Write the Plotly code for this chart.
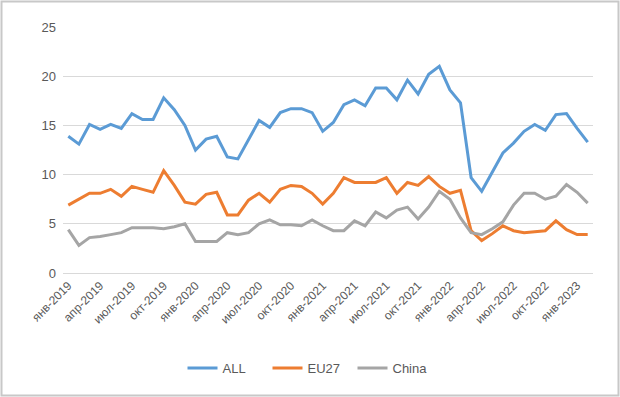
import plotly.graph_objects as go

month_abbr = ["янв", "фев", "мар", "апр", "май", "июн", "июл", "авг", "сен", "окт", "ноя", "дек"]
years = [2019, 2020, 2021, 2022, 2023]
categories = [f"{m}-{y}" for y in years for m in month_abbr][:50]

all_values = [13.9, 13.1, 15.1, 14.6, 15.1, 14.7, 16.2, 15.6, 15.6, 17.8,
              16.6, 15.0, 12.5, 13.6, 13.9, 11.8, 11.6, 13.6, 15.5, 14.8,
              16.3, 16.7, 16.7, 16.3, 14.4, 15.3, 17.1, 17.6, 17.0, 18.8,
              18.8, 17.6, 19.6, 18.2, 20.2, 21.0, 18.6, 17.3, 9.7, 8.3,
              10.3, 12.2, 13.2, 14.4, 15.1, 14.5, 16.1, 16.2, 14.7, 13.3]
eu27_values = [6.9, 7.5, 8.1, 8.1, 8.5, 7.8, 8.8, 8.5, 8.2, 10.4,
               8.9, 7.2, 7.0, 8.0, 8.2, 5.9, 5.9, 7.4, 8.1, 7.2,
               8.5, 8.9, 8.8, 8.1, 7.0, 8.1, 9.7, 9.2, 9.2, 9.2,
               9.7, 8.1, 9.2, 8.9, 9.8, 8.8, 8.1, 8.4, 4.3, 3.3,
               4.0, 4.8, 4.3, 4.1, 4.2, 4.3, 5.3, 4.4, 3.9, 3.9]
china_values = [4.4, 2.8, 3.6, 3.7, 3.9, 4.1, 4.6, 4.6, 4.6, 4.5,
                4.7, 5.0, 3.2, 3.2, 3.2, 4.1, 3.9, 4.1, 5.0, 5.4,
                4.9, 4.9, 4.8, 5.4, 4.8, 4.3, 4.3, 5.3, 4.8, 6.2,
                5.6, 6.4, 6.7, 5.5, 6.7, 8.3, 7.5, 5.6, 4.1, 3.9,
                4.5, 5.2, 6.9, 8.1, 8.1, 7.5, 7.8, 9.0, 8.2, 7.1]

series_names = ["ALL", "EU27", "China"]
series_colors = ["#5B9BD5", "#ED7D31", "#A5A5A5"]
series_values = [all_values, eu27_values, china_values]

tick_idx = list(range(0, len(categories), 3))
tick_text = [categories[i] for i in tick_idx]
x = list(range(len(categories)))

fig = go.Figure()
for name, color, vals in zip(series_names, series_colors, series_values):
    fig.add_trace(go.Scatter(
        x=x, y=vals, name=name, mode="lines",
        line=dict(color=color, width=3), hoverinfo="skip",
    ))

font_family = "Liberation Sans, Arial, sans-serif"
fig.update_layout(
    width=620, height=397,
    margin=dict(l=63, r=27, t=27, b=124),
    paper_bgcolor="white", plot_bgcolor="white",
    font=dict(family=font_family, size=12, color="#595959"),
    showlegend=True,
    legend=dict(orientation="h", xref="container", yref="container",
                x=0.5, xanchor="center", y=0.073, yanchor="middle",
                font=dict(size=13, color="#595959"), itemwidth=30,
                tracegroupgap=0, entrywidth=40),
    xaxis=dict(range=[-0.5, len(categories) - 0.5], tickmode="array",
               tickvals=tick_idx, ticktext=tick_text, tickangle=-45,
               showgrid=False, zeroline=False, showline=True,
               linecolor="#D9D9D9", linewidth=1, ticks="",
               tickfont=dict(size=12, color="#595959")),
    yaxis=dict(range=[0, 25], dtick=5, showgrid=True, gridcolor="#D9D9D9",
               gridwidth=1, zeroline=False, showline=False, ticks="",
               ticklabelstandoff=6,
               tickfont=dict(size=13, color="#595959")),
    shapes=[dict(type="rect", xref="paper", yref="paper",
                 x0=(1.5 - 63) / 530, x1=(618.5 - 63) / 530,
                 y0=(273 - 395.5) / 246, y1=(273 - 1.5) / 246,
                 line=dict(color="#C8C8C8", width=2), layer="below")],
)

fig.write_html("out.html",
               config={"displayModeBar": False},
               post_script="document.body.style.margin='0';document.body.style.overflow='hidden';")
